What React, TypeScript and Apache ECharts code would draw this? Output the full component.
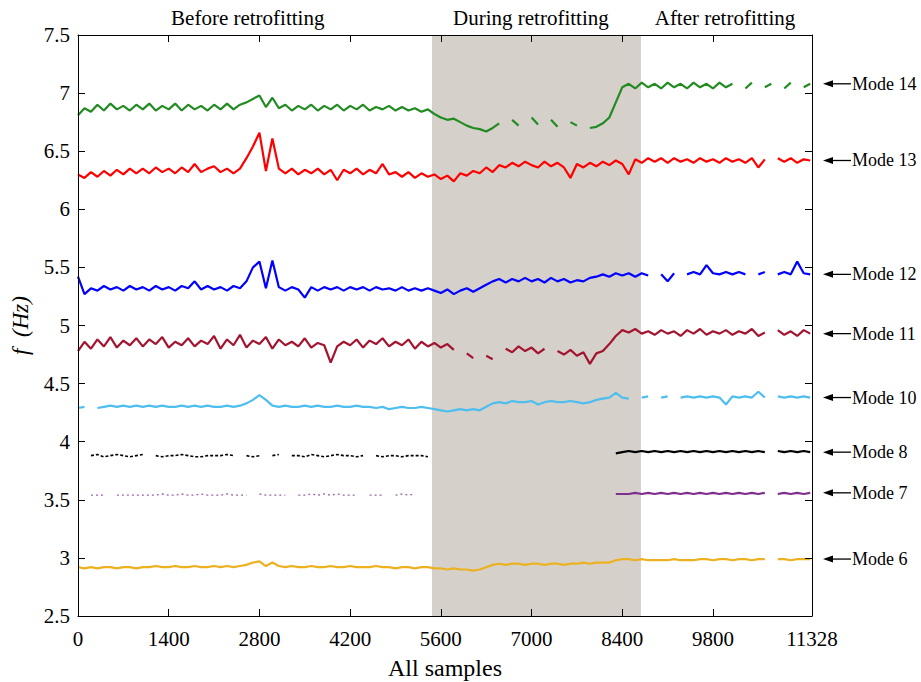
import React, { useEffect, useRef } from "react";
import * as echarts from "echarts";

// Identified natural frequencies, one reading every STEP samples (null = mode not identified)
const STEP = 100;
const X_MAX = 11328;
const X_TICKS = [0, 1400, 2800, 4200, 5600, 7000, 8400, 9800, 11328];
const Y_MIN = 2.5;
const Y_MAX = 7.5;
const Y_INTERVAL = 0.5;
const RETROFIT_START = 5463;
const RETROFIT_END = 8688;
const PHASE_LABELS = ["Before retrofitting", "During retrofitting", "After retrofitting"];
const PHASE_CENTERS = [2620, 6990, 9985];

const MODE_14 = [
  6.81, 6.87, 6.84, 6.90, 6.85, 6.91, 6.86, 6.89, 6.85, 6.90,
  6.86, 6.91, 6.85, 6.89, 6.86, 6.91, 6.85, 6.90, 6.86, 6.89,
  6.85, 6.90, 6.86, 6.91, 6.86, 6.90, 6.92, 6.95, 6.98, 6.88,
  6.96, 6.87, 6.90, 6.85, 6.89, 6.86, 6.90, 6.85, 6.89, 6.86,
  6.90, 6.85, 6.89, 6.86, 6.90, 6.85, 6.88, 6.86, 6.89, 6.85,
  6.88, 6.85, 6.87, 6.84, 6.86, 6.82, 6.79, 6.77, 6.78, 6.75,
  6.72, 6.70, 6.69, 6.67, 6.70, 6.74, null, 6.77, 6.72, null,
  6.79, 6.73, null, 6.77, 6.71, null, 6.75, 6.72, null, 6.70,
  6.71, 6.74, 6.79, 6.92, 7.05, 7.08, 7.04, 7.09, 7.05, 7.08,
  7.04, 7.09, 7.05, 7.08, 7.04, 7.09, 7.05, 7.08, 7.04, 7.09,
  7.05, 7.08, null, 7.04, 7.09, null, 7.05, 7.08, null, 7.04,
  7.09, null, 7.05, 7.08,
];

const MODE_13 = [
  6.30, 6.27, 6.32, 6.28, 6.33, 6.29, 6.34, 6.30, 6.35, 6.31,
  6.35, 6.31, 6.36, 6.32, 6.35, 6.31, 6.36, 6.32, 6.39, 6.32,
  6.35, 6.37, 6.32, 6.35, 6.31, 6.35, 6.44, 6.54, 6.66, 6.33,
  6.61, 6.35, 6.31, 6.35, 6.30, 6.34, 6.31, 6.35, 6.30, 6.34,
  6.25, 6.34, 6.31, 6.35, 6.30, 6.34, 6.31, 6.39, 6.30, 6.32,
  6.28, 6.32, 6.27, 6.31, 6.28, 6.30, 6.26, 6.29, 6.24, 6.31,
  6.29, 6.33, 6.31, 6.36, 6.32, 6.38, 6.36, 6.40, 6.37, 6.41,
  6.38, 6.36, 6.41, 6.37, 6.40, 6.36, 6.27, 6.39, 6.36, 6.40,
  6.37, 6.41, 6.38, 6.42, 6.39, 6.30, 6.43, 6.40, 6.44, 6.41,
  6.44, 6.40, 6.44, 6.41, 6.43, 6.40, 6.44, 6.41, 6.43, 6.40,
  6.44, 6.41, 6.43, 6.40, 6.44, 6.36, 6.43, null, 6.44, 6.41,
  6.44, 6.40, 6.43, 6.42,
];

const MODE_12 = [
  5.42, 5.27, 5.32, 5.30, 5.34, 5.31, 5.33, 5.30, 5.34, 5.31,
  5.33, 5.30, 5.34, 5.31, 5.33, 5.30, 5.34, 5.32, 5.38, 5.31,
  5.34, 5.31, 5.33, 5.30, 5.34, 5.32, 5.38, 5.50, 5.55, 5.32,
  5.56, 5.33, 5.30, 5.33, 5.31, 5.24, 5.33, 5.30, 5.33, 5.31,
  5.33, 5.30, 5.33, 5.31, 5.33, 5.30, 5.33, 5.31, 5.32, 5.30,
  5.33, 5.30, 5.32, 5.30, 5.32, 5.30, 5.28, 5.31, 5.27, 5.30,
  5.32, 5.29, 5.32, 5.35, 5.38, 5.40, 5.37, 5.40, 5.38, 5.41,
  5.38, 5.40, 5.37, 5.41, 5.38, 5.40, 5.37, 5.39, 5.38, 5.41,
  5.42, 5.44, 5.42, 5.45, 5.43, 5.45, 5.42, 5.45, 5.43, null,
  5.44, 5.38, 5.45, null, 5.44, 5.46, 5.44, 5.52, 5.45, 5.44,
  5.46, 5.44, 5.46, 5.44, null, 5.44, 5.46, null, 5.44, 5.46,
  5.44, 5.55, 5.45, 5.44,
];

const MODE_11 = [
  4.78, 4.86, 4.80, 4.88, 4.82, 4.90, 4.81, 4.87, 4.83, 4.89,
  4.82, 4.88, 4.84, 4.90, 4.81, 4.86, 4.83, 4.89, 4.82, 4.87,
  4.84, 4.91, 4.80, 4.88, 4.83, 4.92, 4.81, 4.87, 4.84, 4.90,
  4.80, 4.88, 4.83, 4.86, 4.82, 4.89, 4.81, 4.85, 4.83, 4.68,
  4.82, 4.86, 4.83, 4.88, 4.81, 4.87, 4.84, 4.89, 4.82, 4.86,
  4.83, 4.88, 4.80, 4.86, 4.82, 4.85, 4.81, 4.84, 4.79, null,
  4.76, 4.72, null, 4.74, 4.71, null, 4.80, 4.77, 4.82, 4.78,
  4.81, 4.76, 4.80, null, 4.78, 4.75, 4.79, 4.74, 4.77, 4.67,
  4.76, 4.78, 4.84, 4.91, 4.96, 4.94, 4.97, 4.93, 4.95, 4.92,
  4.96, 4.93, 4.95, 4.91, 4.96, 4.93, 4.97, 4.92, 4.95, 4.93,
  4.96, 4.92, 4.95, 4.93, 4.97, 4.91, 4.94, null, 4.96, 4.92,
  4.95, 4.91, 4.96, 4.93,
];

const MODE_10 = [
  4.29, 4.30, null, 4.29, 4.30, 4.31, 4.30, 4.31, 4.30, 4.31,
  4.30, 4.31, 4.30, 4.31, 4.30, 4.30, 4.31, 4.30, 4.31, 4.30,
  4.31, 4.30, 4.30, 4.31, 4.30, 4.31, 4.33, 4.36, 4.40, 4.36,
  4.31, 4.30, 4.31, 4.30, 4.30, 4.31, 4.30, 4.31, 4.30, 4.30,
  4.31, 4.30, 4.30, 4.31, 4.30, 4.30, 4.29, 4.30, 4.28, 4.29,
  4.30, 4.29, 4.29, 4.30, 4.29, 4.28, 4.27, 4.26, 4.27, 4.28,
  4.27, 4.28, 4.27, 4.30, 4.33, 4.34, 4.33, 4.35, 4.34, 4.34,
  4.35, 4.32, 4.34, 4.35, 4.34, 4.34, 4.35, 4.34, 4.33, 4.34,
  4.36, 4.37, 4.38, 4.42, 4.38, 4.37, null, 4.38, 4.39, null,
  4.38, 4.39, null, 4.38, 4.39, 4.38, 4.39, 4.38, 4.39, 4.38,
  4.32, 4.39, 4.38, 4.39, 4.38, 4.43, 4.38, null, 4.39, 4.38,
  4.39, 4.38, 4.39, 4.38,
];

const MODE_8 = [
  null, null, 3.88, 3.89, 3.87, 3.88, 3.89, 3.88, 3.87, 3.88,
  3.89, null, 3.88, 3.87, 3.88, 3.88, 3.89, 3.88, 3.87, 3.87,
  3.88, 3.88, 3.88, 3.89, 3.88, null, 3.88, 3.87, 3.88, null,
  3.88, 3.89, null, 3.88, 3.88, 3.87, 3.89, 3.88, 3.87, 3.88,
  3.89, 3.88, 3.88, 3.87, 3.88, null, 3.88, 3.87, 3.88, 3.88,
  3.87, 3.88, 3.88, 3.88, 3.87, null, null, null, null, null,
  null, null, null, null, null, null, null, null, null, null,
  null, null, null, null, null, null, null, null, null, null,
  null, null, null, 3.90, 3.91, 3.92, 3.91, 3.92, 3.91, 3.92,
  3.91, 3.92, 3.91, 3.92, 3.91, 3.92, 3.91, 3.92, 3.91, 3.92,
  3.91, 3.92, 3.91, 3.92, 3.91, 3.92, 3.91, null, 3.92, 3.91,
  3.92, 3.91, 3.92, 3.91,
];

const MODE_7 = [
  null, null, 3.54, 3.54, 3.54, null, 3.54, 3.54, 3.54, 3.54,
  3.54, 3.54, 3.54, 3.55, 3.54, 3.54, 3.55, 3.54, 3.54, 3.55,
  3.54, 3.54, 3.54, 3.55, 3.54, 3.54, 3.54, null, 3.55, 3.54,
  3.54, 3.54, 3.54, null, 3.54, 3.54, 3.55, 3.54, 3.55, 3.54,
  3.55, 3.54, 3.54, 3.54, null, 3.54, 3.54, 3.54, null, 3.54,
  3.55, 3.54, 3.55, null, null, null, null, null, null, null,
  null, null, null, null, null, null, null, null, null, null,
  null, null, null, null, null, null, null, null, null, null,
  null, null, null, 3.55, 3.55, 3.55, 3.56, 3.55, 3.56, 3.55,
  3.56, 3.55, 3.56, 3.55, 3.56, 3.55, 3.56, 3.55, 3.56, 3.55,
  3.56, 3.55, 3.56, 3.55, 3.56, 3.55, 3.56, null, 3.55, 3.56,
  3.55, 3.56, 3.55, 3.56,
];

const MODE_6 = [
  2.92, 2.91, 2.92, 2.91, 2.92, 2.92, 2.91, 2.92, 2.92, 2.91,
  2.92, 2.92, 2.93, 2.92, 2.92, 2.93, 2.92, 2.92, 2.93, 2.92,
  2.92, 2.93, 2.92, 2.93, 2.92, 2.93, 2.94, 2.96, 2.97, 2.93,
  2.96, 2.93, 2.92, 2.93, 2.92, 2.92, 2.93, 2.92, 2.92, 2.93,
  2.92, 2.92, 2.93, 2.92, 2.92, 2.92, 2.93, 2.92, 2.92, 2.91,
  2.92, 2.92, 2.91, 2.92, 2.92, 2.91, 2.91, 2.90, 2.91, 2.90,
  2.90, 2.89, 2.90, 2.92, 2.94, 2.95, 2.94, 2.95, 2.95, 2.94,
  2.95, 2.95, 2.94, 2.95, 2.95, 2.94, 2.95, 2.95, 2.96, 2.95,
  2.96, 2.96, 2.96, 2.98, 2.99, 2.99, 2.98, 2.99, 2.98, 2.98,
  2.98, 2.98, 2.99, 2.98, 2.98, 2.98, 2.99, 2.99, 2.98, 2.99,
  2.99, 2.98, 2.99, 2.99, 2.98, 2.99, 2.99, null, 2.99, 2.99,
  2.98, 2.99, 2.99, 2.99,
];

const MODE_NAMES = ["Mode 14", "Mode 13", "Mode 12", "Mode 11", "Mode 10", "Mode 8", "Mode 7", "Mode 6"];
const MODE_VALUES = [MODE_14, MODE_13, MODE_12, MODE_11, MODE_10, MODE_8, MODE_7, MODE_6];
const MODE_COLORS = ["#228B22", "#FF0000", "#0000FF", "#A2142F", "#4DBEEE", "#000000", "#7E2F8E", "#EDB120"];
// Modes that were only intermittently identified before retrofitting
const INTERMITTENT_BEFORE = ["Mode 8", "Mode 7"];

const SERIF = "'Liberation Serif', 'Times New Roman', serif";

const lastReading = (vals: (number | null)[]) => {
  for (let i = vals.length - 1; i >= 0; i--) if (vals[i] != null) return vals[i] as number;
  return 0;
};

export default function App() {
  const ref = useRef<HTMLDivElement>(null);

  useEffect(() => {
    if (!ref.current) return;
    const chart = echarts.init(ref.current, undefined, { renderer: "svg" });

    const axisLine = { show: true, onZero: false, lineStyle: { color: "#000", width: 1 } };
    const tick = { show: true, inside: true, length: 7, lineStyle: { color: "#000", width: 1 } };
    const splitIndex = Math.ceil(RETROFIT_START / STEP);

    const lineSeries: any[] = [];
    MODE_NAMES.forEach((name, k) => {
      const vals = MODE_VALUES[k];
      const color = MODE_COLORS[k];
      const base = {
        type: "line",
        showSymbol: false,
        connectNulls: false,
        z: 3,
        itemStyle: { color },
      };
      if (INTERMITTENT_BEFORE.includes(name)) {
        lineSeries.push({
          ...base,
          name: `${name} (before)`,
          data: vals.map((v, i) => [i * STEP, i < splitIndex ? v : null]),
          lineStyle: {
            color,
            width: name === "Mode 8" ? 1.6 : 1.3,
            type: name === "Mode 8" ? [3, 2] : [2, 3],
            opacity: name === "Mode 8" ? 1 : 0.75,
          },
        });
        lineSeries.push({
          ...base,
          name,
          data: vals.map((v, i) => [i * STEP, i < splitIndex ? null : v]),
          lineStyle: { color, width: 2.2 },
        });
      } else {
        lineSeries.push({
          ...base,
          name,
          data: vals.map((v, i) => [i * STEP, v]),
          lineStyle: { color, width: 2.2 },
        });
      }
    });

    chart.setOption({
      animation: false,
      backgroundColor: "#ffffff",
      grid: {
        left: 78,
        right: 109,
        top: 35,
        bottom: 66,
        containLabel: false,
        outerBoundsMode: "none",
      },
      xAxis: [
        {
          type: "value",
          position: "bottom",
          min: 0,
          max: X_MAX,
          z: 10,
          axisLine,
          axisTick: { ...tick, customValues: X_TICKS },
          axisLabel: {
            customValues: X_TICKS,
            formatter: (v: number) => String(v),
            color: "#000",
            fontFamily: SERIF,
            fontSize: 21,
            margin: 12,
          },
          splitLine: { show: false },
          name: "All samples",
          nameLocation: "middle",
          nameGap: 40,
          nameTextStyle: { color: "#000", fontFamily: SERIF, fontSize: 24 },
        },
        {
          type: "value",
          position: "top",
          min: 0,
          max: X_MAX,
          z: 10,
          axisLine,
          axisTick: { ...tick, customValues: X_TICKS },
          axisLabel: { show: false, customValues: X_TICKS },
          splitLine: { show: false },
        },
      ],
      yAxis: [
        {
          type: "value",
          position: "left",
          min: Y_MIN,
          max: Y_MAX,
          interval: Y_INTERVAL,
          z: 10,
          axisLine,
          axisTick: tick,
          axisLabel: {
            formatter: (v: number) => String(v),
            color: "#000",
            fontFamily: SERIF,
            fontSize: 21,
            margin: 8,
          },
          splitLine: { show: false },
          name: "f  (Hz)",
          nameLocation: "middle",
          nameGap: 46,
          nameRotate: 90,
          nameTextStyle: { color: "#000", fontFamily: SERIF, fontSize: 23, fontStyle: "italic" },
        },
        {
          type: "value",
          position: "right",
          min: Y_MIN,
          max: Y_MAX,
          interval: Y_INTERVAL,
          z: 10,
          axisLine,
          axisTick: tick,
          axisLabel: { show: false },
          splitLine: { show: false },
        },
      ],
      series: [
        {
          name: "retrofitting",
          type: "line",
          data: [],
          z: 1,
          silent: true,
          markArea: {
            silent: true,
            itemStyle: { color: "#d5d0c9" },
            data: [[{ xAxis: RETROFIT_START }, { xAxis: RETROFIT_END }]],
          },
        },
        ...lineSeries,
      ],
    });

    // Phase captions above the plot and arrowed mode labels on the right
    const graphics: any[] = [];
    PHASE_LABELS.forEach((label, k) => {
      const [px] = chart.convertToPixel({ gridIndex: 0 }, [PHASE_CENTERS[k], Y_MAX]) as number[];
      graphics.push({
        type: "text",
        x: px,
        y: 18,
        style: {
          text: label,
          fill: "#000",
          font: `21px ${SERIF}`,
          textAlign: "center",
          textVerticalAlign: "middle",
        },
      });
    });
    MODE_NAMES.forEach((name, k) => {
      const [, py] = chart.convertToPixel({ gridIndex: 0 }, [X_MAX, lastReading(MODE_VALUES[k])]) as number[];
      const tip = 823;
      graphics.push(
        {
          type: "line",
          shape: { x1: tip + 6, y1: py, x2: 851, y2: py },
          style: { stroke: "#000", lineWidth: 1.3 },
        },
        {
          type: "polygon",
          shape: { points: [[tip, py], [tip + 10, py - 3.5], [tip + 10, py + 3.5]] },
          style: { fill: "#000" },
        },
        {
          type: "text",
          x: 852,
          y: py,
          style: {
            text: name,
            fill: "#000",
            font: `18px ${SERIF}`,
            textAlign: "left",
            textVerticalAlign: "middle",
          },
        }
      );
    });
    chart.setOption({ graphic: graphics });

    return () => chart.dispose();
  }, []);

  return (
    <div
      ref={ref}
      style={{ position: "fixed", left: 0, top: 0, width: 921, height: 682, background: "#fff" }}
    />
  );
}
